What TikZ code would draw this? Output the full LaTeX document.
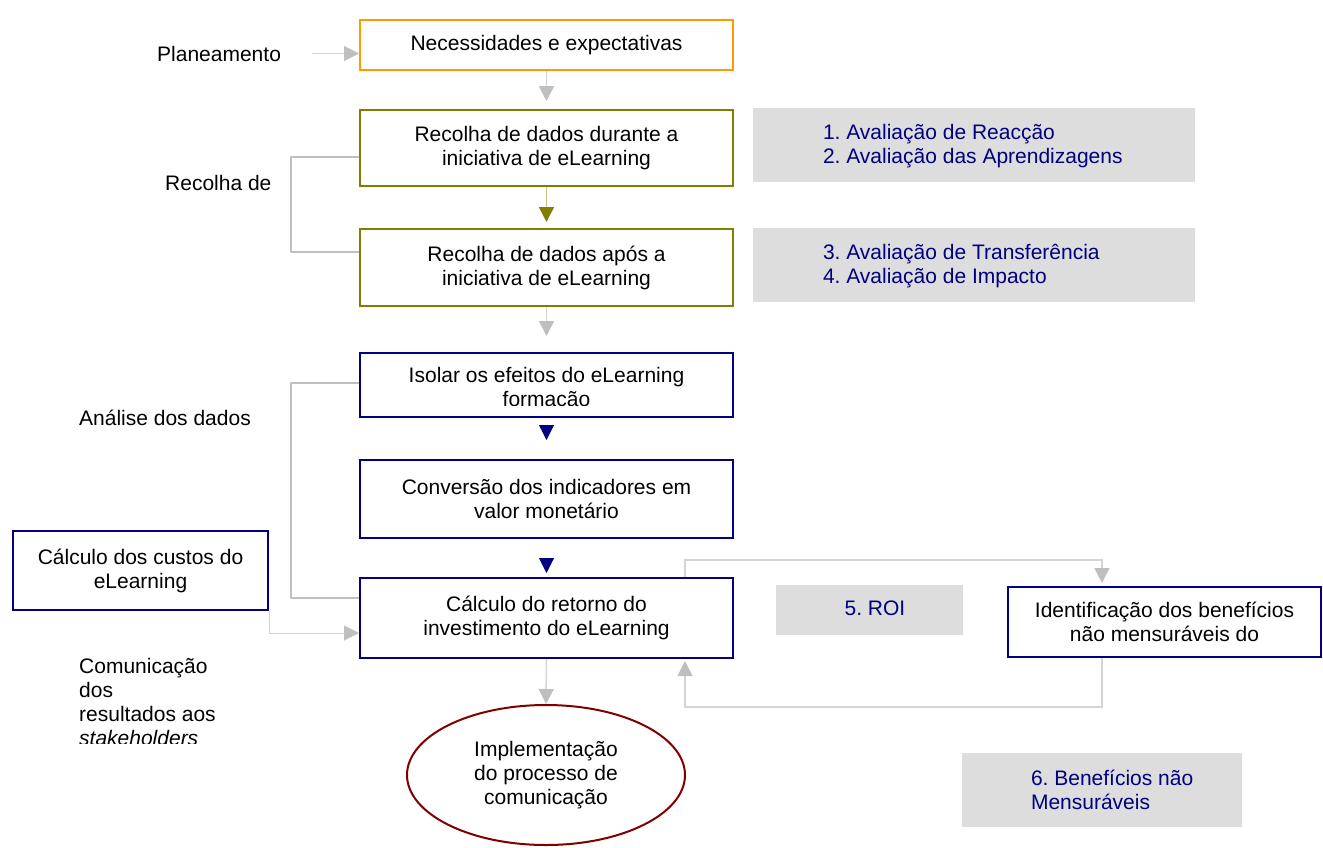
\documentclass[tikz,border=0pt]{standalone}
\usepackage{fontspec}
\setmainfont{Liberation Sans}
\usetikzlibrary{arrows.meta,calc,shapes.geometric}
\definecolor{orangeC}{HTML}{FF9A00}
\definecolor{oliveC}{HTML}{808000}
\definecolor{oliveLine}{HTML}{C4C48A}
\definecolor{navyC}{HTML}{000080}
\definecolor{darkredC}{HTML}{800000}
\definecolor{lgray}{HTML}{D4D4D4}
\definecolor{hgray}{HTML}{BFBFBF}
\definecolor{bgray}{HTML}{C0C0C0}
\definecolor{greyfill}{HTML}{DDDDDD}
\definecolor{bluetext}{HTML}{000080}
\begin{document}
\frenchspacing
\begin{tikzpicture}[x=1pt,y=-1pt,
  every node/.style={font=\fontsize{21}{24}\selectfont\frenchspacing, inner sep=0pt},
  flowbox/.style={draw, line width=2pt, align=center, fill=white},
  greybox/.style={fill=greyfill, draw=none},
  bluetxt/.style={text=bluetext, align=left, anchor=west},
  lbl/.style={anchor=base west},
  conn/.style={draw=lgray, line width=1.5pt, -{Triangle[length=15pt,width=15pt,color=hgray]}},
  navyconn/.style={draw=white, line width=1pt, -{Triangle[length=15pt,width=15pt,color=navyC]}},
  brk/.style={draw=bgray, line width=2.5pt, line join=round}
]
\useasboundingbox (0,0) rectangle (1323,847);

% main column
\node[flowbox, draw=orangeC, minimum width=373pt, minimum height=50pt] (nec) at (546.5,45) {Necessidades e expectativas};
\node[flowbox, draw=oliveC, minimum width=373pt, minimum height=76pt] (dur) at (546.5,148) {Recolha de dados durante a\\iniciativa de eLearning};
\node[flowbox, draw=oliveC, minimum width=373pt, minimum height=77pt] (apos) at (546.5,267.5) {Recolha de dados após a\\iniciativa de eLearning};
\node[flowbox, draw=navyC, minimum width=373pt, minimum height=64pt] (isol) at (546.5,385) {};
\begin{scope}
  \clip (isol.north west) rectangle ($(isol.east)+(0,20)$);
  \node[align=center] (isoltxt) at (546.5,389) {Isolar os efeitos do eLearning\\formação};
\end{scope}
\node[flowbox, draw=navyC, minimum width=373pt, minimum height=78pt] (conv) at (546.5,499) {Conversão dos indicadores em\\valor monetário};
\node[flowbox, draw=navyC, minimum width=373pt, minimum height=80pt] (calc) at (546.5,618) {Cálculo do retorno do\\investimento do eLearning};
\node[flowbox, draw=navyC, minimum width=255pt, minimum height=79pt] (custos) at (140.5,570.5) {Cálculo dos custos do\\eLearning};
\node[flowbox, draw=navyC, minimum width=313pt, minimum height=70pt] (ident) at (1164.5,622) {Identificação dos benefícios\\não mensuráveis do};
\node[ellipse, draw=darkredC, line width=2pt, align=center, minimum width=278pt, minimum height=140pt] (impl) at (546,775) {Implementação\\do processo de\\comunicação};

% grey boxes
\node[greybox, minimum width=442pt, minimum height=74pt] (g12) at (974,145) {};
\node[bluetxt] (g12t) at ($(g12.west)+(70,1)$) {1. Avaliação de Reacção\\2. Avaliação das Aprendizagens};
\node[greybox, minimum width=442pt, minimum height=74pt] (g34) at (974,265) {};
\node[bluetxt] (g34t) at ($(g34.west)+(70,1)$) {3. Avaliação de Transferência\\4. Avaliação de Impacto};
\node[greybox, minimum width=187pt, minimum height=50pt] (roi) at (869.5,610) {};
\node[anchor=base, text=bluetext] (roit) at (875,615.5) {5. ROI};
\node[greybox, minimum width=280pt, minimum height=74pt] (g6) at (1102,790) {};
\node[bluetxt] (g6t) at ($(g6.west)+(69,-0.5)$) {6. Benefícios não\\Mensuráveis};

% left labels
\node[lbl] (plan) at (157,61) {Planeamento};
\node[lbl] (recl) at (165,190) {Recolha de};
\node[lbl] (anal) at (79,425) {Análise dos dados};
\begin{scope}
  \clip (60,640) rectangle (300,743);
  \node[align=left, anchor=west] (comm) at (79,701.5) {Comunicação\\dos\\resultados aos\\\textit{stakeholders}};
\end{scope}

% connectors
\draw[conn, line width=1pt, shorten <=31pt] (plan.east) -- (plan.east -| nec.west);
\draw[conn, shorten >=8pt] (nec.south) -- (dur.north);
\draw[conn, draw=oliveLine, -{Triangle[length=15pt,width=15pt,color=oliveC]}, shorten >=6pt] (dur.south) -- (apos.north);
\draw[conn, shorten >=16pt] (apos.south) -- (isol.north);
\draw[navyconn, shorten >=19pt] (isol.south) -- (conv.north);
\draw[navyconn, shorten >=4pt] (conv.south) -- (calc.north);
\draw[conn] (calc.south) -- (impl.north);
\draw[conn, line width=1pt] (custos.south east) |- ($(calc.west)+(0,15)$);
\draw[conn, shorten >=3pt] ($(calc.north east)+(-49,0)$) |- ($(ident.north)+(-62.5,-26)$) -- ($(ident.north)+(-62.5,0)$);
\draw[conn, shorten >=2pt] ($(ident.south)+(-62.5,0)$) -- ++(0,49) -| ($(calc.south east)+(-49,0)$);

% brackets
\draw[brk] ($(dur.west)+(0,9)$) -- ++(-68,0) |- ($(apos.west)+(0,-15.5)$);
\draw[brk] ($(isol.west)+(0,-2)$) -- ++(-68,0) |- ($(calc.west)+(0,-20)$);
\end{tikzpicture}
\end{document}
